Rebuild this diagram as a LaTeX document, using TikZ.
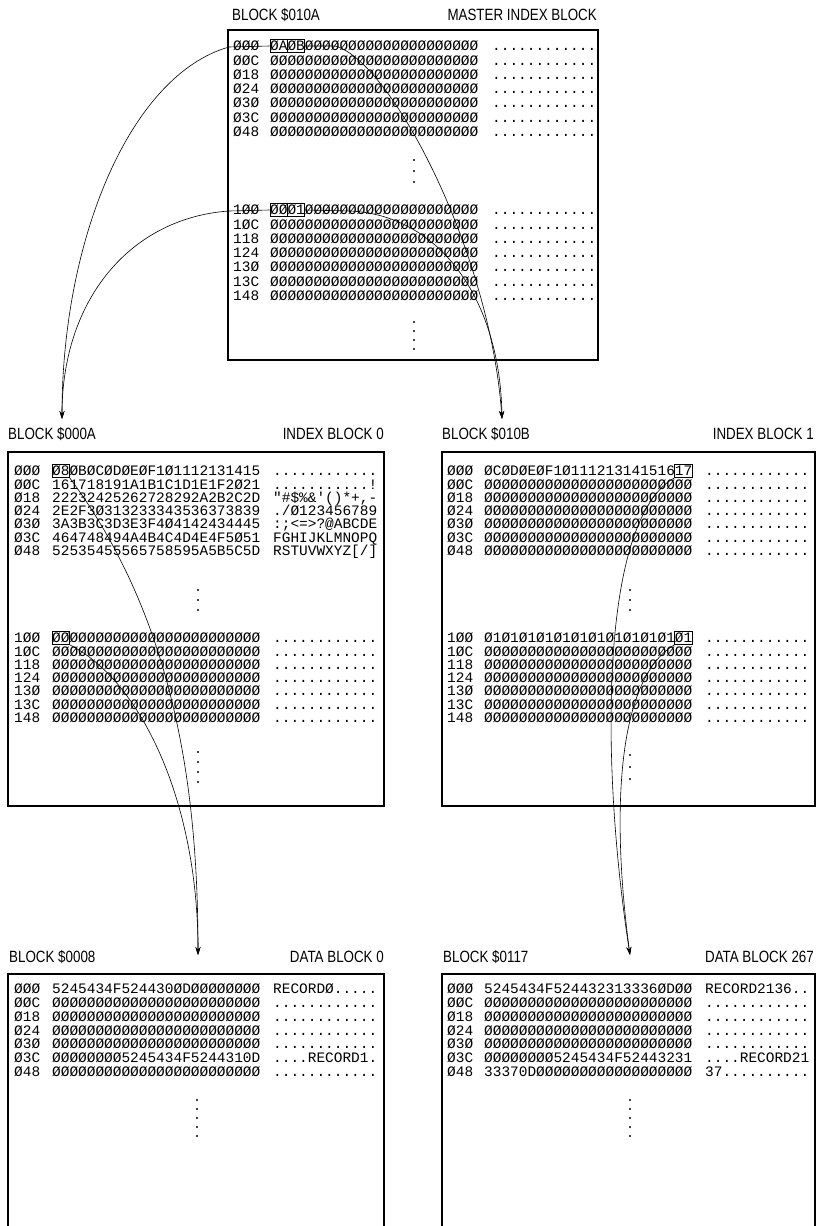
\documentclass[tikz,border=0pt]{standalone}
\usepackage{fontspec}
\setmainfont{Liberation Sans}
\newfontfamily\monof{Liberation Mono}
\newfontfamily\titlef[FakeStretch=0.82]{Liberation Sans}
\usetikzlibrary{arrows.meta}
\newcommand\hrow[8]{%
  \node[mono] (#1a) at (#2,#5) {#6};
  \node[mono] (#1h) at (#3,#5) {#7};
  \node[mono] (#1s) at (#4,#5) {#8};
}
\tikzset{
  mono/.style={font=\monof\fontsize{14.45}{14.45}\selectfont, inner sep=0pt, text height=9.5pt, text depth=0pt, anchor=west},
  ttl/.style={font=\titlef\fontsize{16.3}{16.3}\selectfont, inner sep=0pt, text height=11.5pt, text depth=0pt},
  frame/.style={draw, line width=1.3pt},
  bytebox/.style={draw, line width=0.7pt, minimum width=17.34pt, minimum height=13pt, inner sep=0pt},
  arr/.style={line width=0.6pt, -{Stealth[length=8pt,width=5pt]}},
  vdot/.style={circle, fill, inner sep=0pt, minimum size=2.2pt}
}
\begin{document}
\begin{tikzpicture}[x=1pt,y=-1pt]
\fill[white] (0,0) rectangle (816,1226);
\useasboundingbox (0,0) rectangle (816,1226);

% ---------------- frames ----------------
\draw[frame] (228,30) rectangle (598,360);
\draw[frame] (8,452) rectangle (384,806);
\draw[frame] (442,452) rectangle (815,806);
\draw[frame] (8,974) rectangle (384,1240);
\draw[frame] (442,974) rectangle (815,1240);

% ---------------- titles ----------------
\node[ttl,anchor=west] (tMa) at (232,15) {BLOCK \$010A};
\node[ttl,anchor=east] (tMb) at (597,15) {MASTER INDEX BLOCK};
\node[ttl,anchor=west] (tIa) at (8,434) {BLOCK \$000A};
\node[ttl,anchor=east] (tIb) at (384,434) {INDEX BLOCK 0};
\node[ttl,anchor=west] (tJa) at (442,434) {BLOCK \$010B};
\node[ttl,anchor=east] (tJb) at (814,434) {INDEX BLOCK 1};
\node[ttl,anchor=west] (tDa) at (9,957) {BLOCK \$0008};
\node[ttl,anchor=east] (tDb) at (384,957) {DATA BLOCK 0};
\node[ttl,anchor=west] (tEa) at (443,957) {BLOCK \$0117};
\node[ttl,anchor=east] (tEb) at (814,957) {DATA BLOCK 267};

% ---------------- master index block ----------------
\hrow{m0}{233}{270}{492}{46}{ØØØ}{ØAØBØØØØØØØØØØØØØØØØØØØØ}{............}
\hrow{m1}{233}{270}{492}{60.3}{ØØC}{ØØØØØØØØØØØØØØØØØØØØØØØØ}{............}
\hrow{m2}{233}{270}{492}{74.6}{Ø18}{ØØØØØØØØØØØØØØØØØØØØØØØØ}{............}
\hrow{m3}{233}{270}{492}{88.9}{Ø24}{ØØØØØØØØØØØØØØØØØØØØØØØØ}{............}
\hrow{m4}{233}{270}{492}{103.2}{Ø3Ø}{ØØØØØØØØØØØØØØØØØØØØØØØØ}{............}
\hrow{m5}{233}{270}{492}{117.5}{Ø3C}{ØØØØØØØØØØØØØØØØØØØØØØØØ}{............}
\hrow{m6}{233}{270}{492}{131.8}{Ø48}{ØØØØØØØØØØØØØØØØØØØØØØØØ}{............}
\hrow{m7}{233}{270}{492}{210}{1ØØ}{ØØØ1ØØØØØØØØØØØØØØØØØØØØ}{............}
\hrow{m8}{233}{270}{492}{224.3}{1ØC}{ØØØØØØØØØØØØØØØØØØØØØØØØ}{............}
\hrow{m9}{233}{270}{492}{238.6}{118}{ØØØØØØØØØØØØØØØØØØØØØØØØ}{............}
\hrow{mA}{233}{270}{492}{252.9}{124}{ØØØØØØØØØØØØØØØØØØØØØØØØ}{............}
\hrow{mB}{233}{270}{492}{267.2}{13Ø}{ØØØØØØØØØØØØØØØØØØØØØØØØ}{............}
\hrow{mC}{233}{270}{492}{281.5}{13C}{ØØØØØØØØØØØØØØØØØØØØØØØØ}{............}
\hrow{mD}{233}{270}{492}{295.8}{148}{ØØØØØØØØØØØØØØØØØØØØØØØØ}{............}
\foreach \yy [count=\k] in {160,171,182} \node[vdot] (mdu\k) at (414,\yy) {};
\foreach \yy [count=\k] in {322,331,340,349} \node[vdot] (mdl\k) at (414,\yy) {};
\node[bytebox] (bA) at (278.7,46) {};
\node[bytebox] (bB) at (296,46) {};
\node[bytebox] (b0) at (278.7,210) {};
\node[bytebox] (b1) at (296,210) {};

% ---------------- index block 0 ----------------
\hrow{i0}{14}{52}{273}{471}{ØØØ}{Ø8ØBØCØDØEØF1Ø1112131415}{............}
\hrow{i1}{14}{52}{273}{484.3}{ØØC}{161718191A1B1C1D1E1F2Ø21}{...........!}
\hrow{i2}{14}{52}{273}{497.6}{Ø18}{22232425262728292A2B2C2D}{"\#\$\%\&'()*+,-}
\hrow{i3}{14}{52}{273}{510.9}{Ø24}{2E2F3Ø313233343536373839}{./Ø123456789}
\hrow{i4}{14}{52}{273}{524.2}{Ø3Ø}{3A3B3C3D3E3F4Ø4142434445}{:;<=>?@ABCDE}
\hrow{i5}{14}{52}{273}{537.5}{Ø3C}{464748494A4B4C4D4E4F5Ø51}{FGHIJKLMNOPQ}
\hrow{i6}{14}{52}{273}{550.8}{Ø48}{52535455565758595A5B5C5D}{RSTUVWXYZ[/]}
\hrow{i7}{14}{52}{273}{638}{1ØØ}{ØØØØØØØØØØØØØØØØØØØØØØØØ}{............}
\hrow{i8}{14}{52}{273}{651.3}{1ØC}{ØØØØØØØØØØØØØØØØØØØØØØØØ}{............}
\hrow{i9}{14}{52}{273}{664.6}{118}{ØØØØØØØØØØØØØØØØØØØØØØØØ}{............}
\hrow{iA}{14}{52}{273}{677.9}{124}{ØØØØØØØØØØØØØØØØØØØØØØØØ}{............}
\hrow{iB}{14}{52}{273}{691.2}{13Ø}{ØØØØØØØØØØØØØØØØØØØØØØØØ}{............}
\hrow{iC}{14}{52}{273}{704.5}{13C}{ØØØØØØØØØØØØØØØØØØØØØØØØ}{............}
\hrow{iD}{14}{52}{273}{717.8}{148}{ØØØØØØØØØØØØØØØØØØØØØØØØ}{............}
\foreach \yy [count=\k] in {590,600,610} \node[vdot] (idu\k) at (198,\yy) {};
\foreach \yy [count=\k] in {752,762,772,782} \node[vdot] (idl\k) at (198,\yy) {};
\node[bytebox] (c0) at (60.7,471) {};
\node[bytebox] (c1) at (60.7,638) {};

% ---------------- index block 1 ----------------
\hrow{j0}{447}{484}{705}{471}{ØØØ}{ØCØDØEØF1Ø11121314151617}{............}
\hrow{j1}{447}{484}{705}{484.3}{ØØC}{ØØØØØØØØØØØØØØØØØØØØØØØØ}{............}
\hrow{j2}{447}{484}{705}{497.6}{Ø18}{ØØØØØØØØØØØØØØØØØØØØØØØØ}{............}
\hrow{j3}{447}{484}{705}{510.9}{Ø24}{ØØØØØØØØØØØØØØØØØØØØØØØØ}{............}
\hrow{j4}{447}{484}{705}{524.2}{Ø3Ø}{ØØØØØØØØØØØØØØØØØØØØØØØØ}{............}
\hrow{j5}{447}{484}{705}{537.5}{Ø3C}{ØØØØØØØØØØØØØØØØØØØØØØØØ}{............}
\hrow{j6}{447}{484}{705}{550.8}{Ø48}{ØØØØØØØØØØØØØØØØØØØØØØØØ}{............}
\hrow{j7}{447}{484}{705}{638}{1ØØ}{Ø1Ø1Ø1Ø1Ø1Ø1Ø1Ø1Ø1Ø1Ø1Ø1}{............}
\hrow{j8}{447}{484}{705}{651.3}{1ØC}{ØØØØØØØØØØØØØØØØØØØØØØØØ}{............}
\hrow{j9}{447}{484}{705}{664.6}{118}{ØØØØØØØØØØØØØØØØØØØØØØØØ}{............}
\hrow{jA}{447}{484}{705}{677.9}{124}{ØØØØØØØØØØØØØØØØØØØØØØØØ}{............}
\hrow{jB}{447}{484}{705}{691.2}{13Ø}{ØØØØØØØØØØØØØØØØØØØØØØØØ}{............}
\hrow{jC}{447}{484}{705}{704.5}{13C}{ØØØØØØØØØØØØØØØØØØØØØØØØ}{............}
\hrow{jD}{447}{484}{705}{717.8}{148}{ØØØØØØØØØØØØØØØØØØØØØØØØ}{............}
\foreach \yy [count=\k] in {590,600,610} \node[vdot] (jdu\k) at (630,\yy) {};
\foreach \yy [count=\k] in {755,767,779} \node[vdot] (jdl\k) at (630,\yy) {};
\node[bytebox] (e0) at (683.4,471) {};
\node[bytebox] (e1) at (683.4,638) {};

% ---------------- data block 0 ----------------
\hrow{d0}{14}{52}{273}{989}{ØØØ}{5245434F524430ØDØØØØØØØØ}{RECORDØ.....}
\hrow{d1}{14}{52}{273}{1002.8}{ØØC}{ØØØØØØØØØØØØØØØØØØØØØØØØ}{............}
\hrow{d2}{14}{52}{273}{1016.6}{Ø18}{ØØØØØØØØØØØØØØØØØØØØØØØØ}{............}
\hrow{d3}{14}{52}{273}{1030.4}{Ø24}{ØØØØØØØØØØØØØØØØØØØØØØØØ}{............}
\hrow{d4}{14}{52}{273}{1044.2}{Ø3Ø}{ØØØØØØØØØØØØØØØØØØØØØØØØ}{............}
\hrow{d5}{14}{52}{273}{1058}{Ø3C}{ØØØØØØØØ5245434F5244310D}{....RECORD1.}
\hrow{d6}{14}{52}{273}{1071.8}{Ø48}{ØØØØØØØØØØØØØØØØØØØØØØØØ}{............}
\foreach \yy [count=\k] in {1100,1109,1118,1127,1136} \node[vdot] (ddl\k) at (197,\yy) {};

% ---------------- data block 267 ----------------
\hrow{f0}{447}{484}{705}{989}{ØØØ}{5245434F524432313336ØDØØ}{RECORD2136..}
\hrow{f1}{447}{484}{705}{1002.8}{ØØC}{ØØØØØØØØØØØØØØØØØØØØØØØØ}{............}
\hrow{f2}{447}{484}{705}{1016.6}{Ø18}{ØØØØØØØØØØØØØØØØØØØØØØØØ}{............}
\hrow{f3}{447}{484}{705}{1030.4}{Ø24}{ØØØØØØØØØØØØØØØØØØØØØØØØ}{............}
\hrow{f4}{447}{484}{705}{1044.2}{Ø3Ø}{ØØØØØØØØØØØØØØØØØØØØØØØØ}{............}
\hrow{f5}{447}{484}{705}{1058}{Ø3C}{ØØØØØØØØ5245434F52443231}{....RECORD21}
\hrow{f6}{447}{484}{705}{1071.8}{Ø48}{33370DØØØØØØØØØØØØØØØØØØ}{37..........}
\foreach \yy [count=\k] in {1100,1109,1118,1127,1136} \node[vdot] (fdl\k) at (630,\yy) {};

% ---------------- arrow targets ----------------
\coordinate (t0) at (62,419);
\coordinate (t1) at (502,419);
\coordinate (t2) at (198,955);
\coordinate (t3) at (630,955);

% ---------------- connectors ----------------
\draw[arr] (bA.west) -- (229,47) .. controls (130,75) and (62,240) .. (t0);
\draw[arr] (b0.west) -- (229,211) .. controls (130,218) and (62,300) .. (t0);
\draw[arr] (bB.east) -- (335,46) .. controls (390,60) and (490,250) .. (t1);
\draw[arr] (b1.east) -- (350,211) .. controls (440,215) and (500,300) .. (t1);
\draw[arr] (c0.south east) .. controls (175,620) and (198,790) .. (t2);
\draw[arr] (c1.south east) .. controls (140,680) and (198,800) .. (t2);
\draw[arr] (e0.south west) .. controls (600,520) and (600,760) .. (t3);
\draw[arr] (e1.south west) .. controls (615,680) and (612,820) .. (t3);
\end{tikzpicture}
\end{document}
